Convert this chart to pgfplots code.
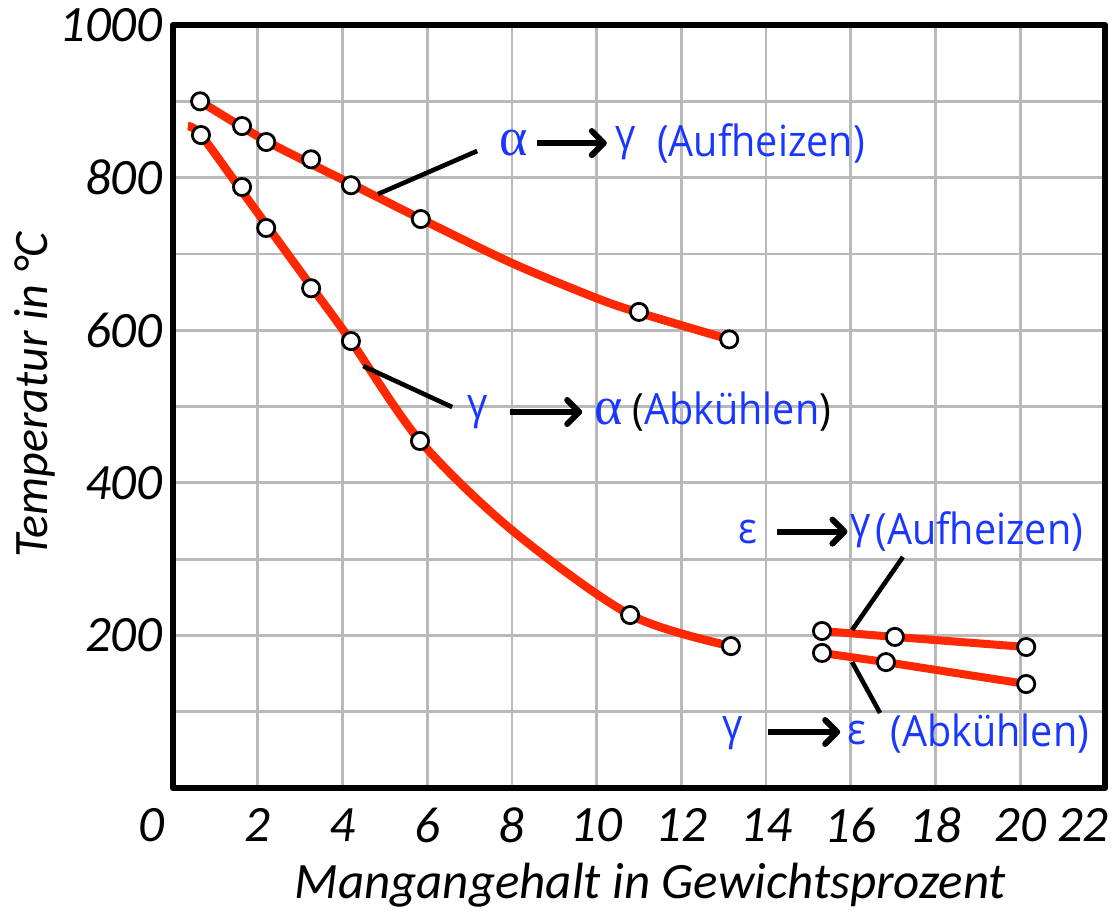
\documentclass[border=0pt]{standalone}
\usepackage{pgfplots}
\pgfplotsset{compat=1.18}
\usepackage{fontspec}
\setmainfont{Carlito}
\newfontfamily\annot[FakeStretch=0.92]{Open Sans}
\newfontfamily\sergr{Liberation Serif}
\usetikzlibrary{arrows.meta}
\definecolor{cred}{RGB}{255,40,0}
\definecolor{cblue}{RGB}{25,55,255}
\definecolor{cgrid}{RGB}{185,185,185}
\begin{document}
\begin{tikzpicture}
\begin{axis}[
 scale only axis, width=466pt, height=381.5pt,
 xmin=0, xmax=22, ymin=0, ymax=1000,
 xtick={2,4,...,20}, ytick={200,400,...,1000}, minor ytick={100,300,...,900},
 grid=both,
 major grid style={cgrid, line width=1.4pt},
 minor grid style={cgrid, line width=1.4pt},
 major tick length=0pt, minor tick length=0pt,
 axis line style={line width=3.3pt, line join=round},
 /pgf/number format/assume math mode=true,
 /pgf/number format/1000 sep={},
 tick label style={font=\fontsize{25.5}{29}\selectfont\itshape},
 xticklabel style={anchor=center, inner sep=0pt, yshift=-18.5pt},
 yticklabel style={anchor=east, inner sep=0pt, xshift=-5pt},
 extra x ticks={0,22},
 extra x tick style={grid=none, xticklabel style={xshift=-11pt}},
 xlabel={Mangangehalt in Gewichtsprozent},
 ylabel={Temperatur in °C},
 label style={font=\fontsize{25.5}{29}\selectfont\itshape},
 xlabel style={at={([yshift=-48.5pt]rel axis cs:0.512,0)}, anchor=center},
 ylabel style={at={([xshift=-69pt,yshift=5.75pt]rel axis cs:0,0.5)}, anchor=center, font=\fontsize{24}{28}\selectfont\itshape},
 clip=false,
]
% red curves
\addplot[cred, line width=4.2pt, smooth] coordinates {(0.64,900)(2.2,848)(4.2,792)(5.85,746)(8,688)(10,642)(11,623)(13.13,588)};
\addplot[cred, line width=4.2pt, smooth] coordinates {(0.35,867.6)(0.66,855.8)(1.63,782)(2.2,738.5)(3.26,657.7)(4.2,586)(5.83,455)(8,338)(10.79,227)(13.17,186)};
\addplot[cred, line width=4pt] coordinates {(15.32,205.8)(17.04,198)(20.14,184.8)};
\addplot[cred, line width=4pt] coordinates {(15.32,177)(16.83,165)(20.14,136.3)};
% markers
\addplot[only marks, mark=*, mark size=4.3pt, mark options={fill=white, draw=black, line width=1.4pt}] coordinates {
(0.64,900)(1.63,867.6)(2.20,846.7)(3.26,824)(4.20,790)(5.85,745.7)(11.0,624)(13.13,588)
(0.66,855.8)(1.63,787.7)(2.20,734)(3.26,655)(4.20,585.8)(5.83,454.8)(10.79,226.7)(13.17,186)
(15.32,205.8)(17.04,198)(20.14,184.8)
(15.32,177)(16.83,165)(20.14,136.3)};
% callout lines
\draw[black, line width=2.3pt] (axis cs:4.84,778.5) -- (axis cs:7.18,834.9);
\draw[black, line width=2.3pt] (axis cs:4.49,553) -- (axis cs:6.59,499.3);
\draw[black, line width=2.3pt] (axis cs:16.03,207) -- (axis cs:17.23,302.8);
\draw[black, line width=2.3pt] (axis cs:16.03,165) -- (axis cs:16.69,98.3);
% arrows
\draw[black, line width=3pt, -{Straight Barb[length=6pt,width=12pt,round]}] (axis cs:8.59,845.3) -- (axis cs:10.24,845.3);
\draw[black, line width=3pt, -{Straight Barb[length=6pt,width=12pt,round]}] (axis cs:7.96,492.8) -- (axis cs:9.66,492.8);
\draw[black, line width=3pt, -{Straight Barb[length=6pt,width=12pt,round]}] (axis cs:14.26,336) -- (axis cs:15.92,336);
\draw[black, line width=3pt, -{Straight Barb[length=6pt,width=12pt,round]}] (axis cs:14.05,73.4) -- (axis cs:15.75,73.4);
% texts
\begin{scope}[every node/.style={text=cblue, inner sep=0pt, font=\annot\fontsize{21.5}{25}\selectfont}]
\node at (axis cs:8.03,845.3) {\sergr\fontsize{27}{30}\selectfont α};
\node at (axis cs:10.69,845.3) {γ};
\node[anchor=west] at (axis cs:11.42,845.3) {(Aufheizen)};
\node at (axis cs:7.20,492.8) {γ};
\node at (axis cs:10.29,492.8) {\sergr\fontsize{27}{30}\selectfont α};
\node[anchor=west] at (axis cs:10.84,492.8) {\textcolor{black}{(}Abkühlen\textcolor{black}{)}};
\node at (axis cs:13.57,336) {ε};
\node at (axis cs:16.22,336) {γ};
\node[anchor=west] at (axis cs:16.57,336) {(Aufheizen)};
\node at (axis cs:13.22,72) {γ};
\node at (axis cs:16.15,72) {ε};
\node[anchor=west] at (axis cs:16.93,72) {(Abkühlen)};
\end{scope}
\coordinate (bbl) at (axis cs:-4.084,-163.8);
\coordinate (btr) at (axis cs:22.26,1032.8);
\end{axis}
\pgfresetboundingbox
\path[use as bounding box] (bbl) rectangle (btr);
\end{tikzpicture}
\end{document}
